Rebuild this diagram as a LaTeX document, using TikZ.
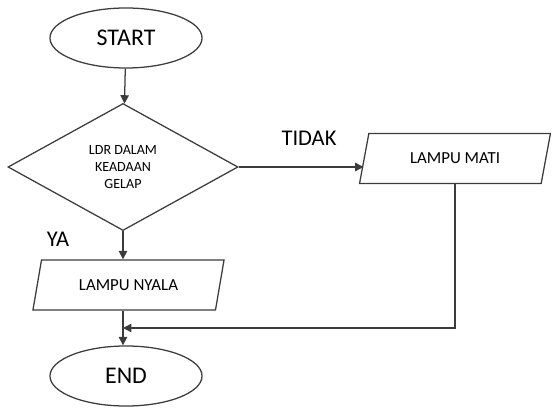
\documentclass[tikz,border=0pt]{standalone}
\usepackage{fontspec}
\setmainfont{Carlito}
\usetikzlibrary{arrows.meta, shapes.geometric}
\definecolor{linegray}{HTML}{3C3C3C}

\begin{document}
\begin{tikzpicture}[
    x=0.025cm, y=-0.025cm,
    every node/.style={draw=linegray, line width=0.9pt, align=center, inner sep=1pt},
    terminal/.style={ellipse, minimum width=3.8cm, minimum height=1.5cm, font=\fontsize{17}{20}\selectfont},
    decision/.style={diamond, minimum width=5.75cm, minimum height=3.175cm, font=\fontsize{10}{12}\selectfont},
    io/.style={trapezium, trapezium left angle=70, trapezium right angle=110, trapezium stretches=true,
        minimum width=4.8cm, minimum height=1.25cm, font=\fontsize{12}{14}\selectfont},
    tag/.style={draw=none, font=\fontsize{16}{19}\selectfont},
    flow/.style={draw=linegray, line width=0.9pt, -{Triangle[length=6pt, width=6pt]}}
]
\useasboundingbox (0,0) rectangle (552,413);

\node[terminal] (start) at (126,38) {START};
\node[decision] (cek) at (123,167) {LDR DALAM\\KEADAAN\\GELAP};
\node[io] (nyala) at (128.5,285) {LAMPU NYALA};
\node[io] (mati) at (455,158.5) {LAMPU MATI};
\node[terminal] (end) at (126,376) {END};
\node[tag] (ya) at (58,239) {YA};
\node[tag] (tidak) at (309,138) {TIDAK};
\coordinate (merge) at (123,328);

\draw[flow] (start) -- (cek);
\draw[flow] (cek.south) -- (cek.south |- nyala.north);
\draw[flow] (cek.east) -- (cek.east -| mati.west);
\draw[flow] (cek.south |- nyala.south) -- (cek.south |- end.north);
\draw[flow] (mati.south) |- (merge);
\end{tikzpicture}
\end{document}
